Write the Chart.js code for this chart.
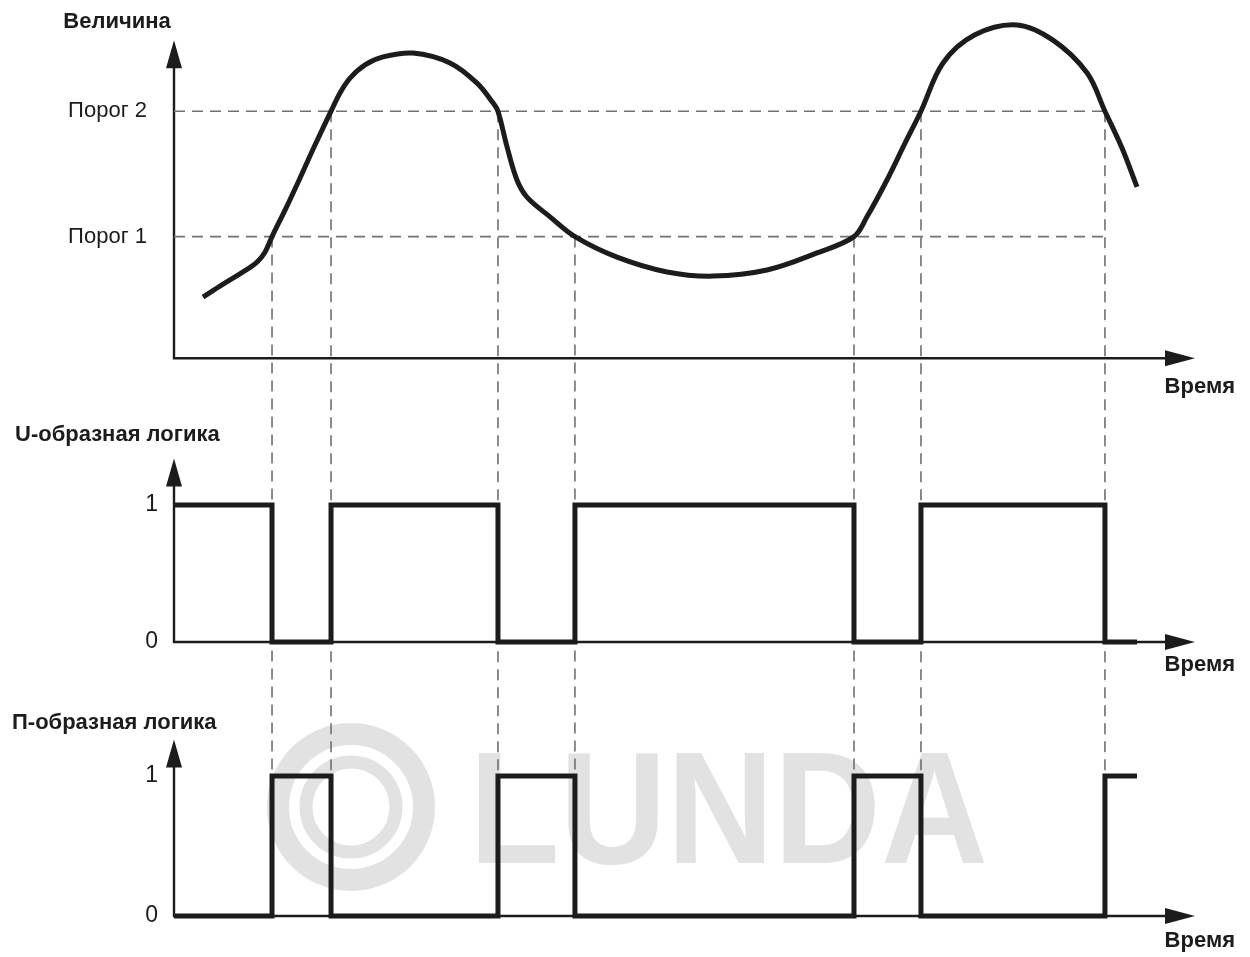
<!DOCTYPE html>
<html>
<head>
<meta charset="utf-8">
<script src="https://cdn.jsdelivr.net/npm/chart.js@4.4.1/dist/chart.umd.min.js"></script>
<style>
  html, body { margin: 0; padding: 0; background: #fff; }
</style>
</head>
<body>
<canvas id="myChart" width="1250" height="957"></canvas>
<script>
  const curveTime  = [2.84, 4.70, 6.76, 8.13, 8.91, 9.60, 10.97, 12.34, 13.81, 15.38, 16.26, 17.24, 18.71, 20.47, 23.41,
                      27.03, 29.68, 31.24, 31.73, 32.62, 33.59, 34.57, 36.83, 39.27, 43.39, 48.29, 52.79, 58.08, 62.98,
                      66.60, 67.87, 69.83, 71.60, 73.16, 75.32, 78.45, 82.57, 86.09, 89.42, 91.18, 92.85, 94.32]
  const curveValue = [16.1, 19.3, 22.7, 25.3, 27.9, 32.0, 39.5, 47.4, 56.1, 65.0, 69.8, 73.7, 77.2, 79.3, 80.3,
                      77.7, 72.4, 67.2, 65.0, 55.6, 46.9, 42.4, 37.2, 32.0, 26.6, 22.7, 21.6, 23.2, 27.7,
                      32.0, 37.2, 46.9, 56.6, 65.0, 77.7, 85.1, 87.7, 83.7, 75.1, 65.0, 55.3, 45.1]

  const thresholdValues = [32, 65]
  const thresholdLabels = ['Порог 1', 'Порог 2']
  const thresholdEnd = 91.18

  // switching moments and the two logic outputs
  const switchTimes = [0, 9.60, 15.38, 31.73, 39.27, 66.60, 73.16, 91.18, 94.32]
  const uLogic      = [1, 0, 1, 0, 1, 0, 1, 0, 0]
  const pLogic      = [0, 1, 0, 1, 0, 1, 0, 1, 1]
  const crossLevel  = [32, 65, 65, 32, 32, 65, 65]   // threshold hit at each switch

  const logicTicks  = [0, 1]
  const logicLabels = ['0', '1']

  const FONT = "'Liberation Sans', Arial, sans-serif"
  const INK = '#1c1c1c'

  const panels = [
    {id: 'yv', tip: 83.7, title: 'Величина', titleX: 117, titleAlign: 'center', titleDy: -18, timeDy: 29},
    {id: 'yu', tip: 1.34, title: 'U-образная логика', titleX: 15, titleAlign: 'left', titleDy: -23, timeDy: 23},
    {id: 'yp', tip: 1.26, title: 'П-образная логика', titleX: 12, titleAlign: 'left', titleDy: -17, timeDy: 25},
  ]

  function to_points(xs, ys) {
    return xs.map((x, i) => ({x: x, y: ys[i]}))
  }

  function arrow(ctx, x, y, dir) {
    ctx.beginPath()
    if (dir == 'up') {
      ctx.moveTo(x, y); ctx.lineTo(x - 8, y + 28); ctx.lineTo(x + 8, y + 28)
    } else {
      ctx.moveTo(x, y); ctx.lineTo(x - 30, y - 8); ctx.lineTo(x - 30, y + 8)
    }
    ctx.closePath()
    ctx.fill()
  }

  function fix_width(s) {
    s.width = 174
    s.paddingTop = 0
    s.paddingBottom = 0
  }

  const sketch = {
    id: 'sketch',
    beforeDraw(chart) {
      // faint watermark
      const ctx = chart.ctx
      ctx.save()
      ctx.strokeStyle = '#e2e2e2'
      ctx.lineWidth = 22
      ctx.beginPath(); ctx.arc(351, 807, 73, 0, Math.PI * 2); ctx.stroke()
      ctx.lineWidth = 13
      ctx.beginPath(); ctx.arc(351, 807, 45, 0, Math.PI * 2); ctx.stroke()
      ctx.fillStyle = '#e2e2e2'
      ctx.font = "bold 160px 'Liberation Sans', Arial, sans-serif"
      ctx.textBaseline = 'alphabetic'
      ctx.textAlign = 'left'
      const w = ctx.measureText('LUNDA').width
      ctx.translate(469, 863)
      ctx.scale(519 / w, 1)
      ctx.fillText('LUNDA', 0, 0)
      ctx.restore()
    },
    beforeDatasetsDraw(chart) {
      const {ctx, scales} = chart
      const x = scales.x
      const x0 = x.getPixelForValue(0)
      const xEnd = x.getPixelForValue(x.max)
      ctx.save()

      // guides from threshold crossings down to the last panel
      ctx.strokeStyle = '#707070'
      ctx.lineWidth = 1.6
      ctx.setLineDash([11, 7])
      switchTimes.slice(1, -1).forEach((t, i) => {
        const px = x.getPixelForValue(t)
        ctx.beginPath()
        ctx.moveTo(px, scales.yv.getPixelForValue(crossLevel[i]))
        ctx.lineTo(px, scales.yp.getPixelForValue(1))
        ctx.stroke()
      })
      ctx.setLineDash([])

      // axes with arrows
      ctx.strokeStyle = INK
      ctx.fillStyle = INK
      ctx.lineWidth = 2.4
      panels.forEach(p => {
        const s = scales[p.id]
        const y0 = s.getPixelForValue(0)
        const yTip = s.getPixelForValue(p.tip)
        ctx.beginPath()
        ctx.moveTo(x0, yTip + 20); ctx.lineTo(x0, y0); ctx.lineTo(xEnd - 22, y0)
        ctx.stroke()
        arrow(ctx, x0, yTip, 'up')
        arrow(ctx, xEnd, y0, 'right')
      })
      ctx.restore()
    },
    afterDraw(chart) {
      const {ctx, scales} = chart
      const xEnd = scales.x.getPixelForValue(scales.x.max)
      ctx.save()
      ctx.fillStyle = INK
      ctx.textBaseline = 'middle'
      ctx.font = 'bold 22px ' + FONT
      panels.forEach(p => {
        const s = scales[p.id]
        ctx.textAlign = p.titleAlign
        ctx.fillText(p.title, p.titleX, s.getPixelForValue(p.tip) + p.titleDy)
        ctx.textAlign = 'right'
        ctx.fillText('Время', xEnd + 40, s.getPixelForValue(0) + p.timeDy)
      })
      ctx.restore()
    }
  }

  function logic_scale(weight, stackWeight, min, max) {
    return {
      type: 'linear', position: 'left', stack: 'panels', stackWeight: stackWeight, weight: weight,
      min: min, max: max,
      grid: {display: false, drawTicks: false},
      border: {display: false},
      afterBuildTicks: s => { s.ticks = logicTicks.map(v => ({value: v})) },
      afterFit: fix_width,
      ticks: {
        callback: (v, i) => logicLabels[i],
        padding: 16,
        color: INK,
        font: {family: FONT, size: 23}
      }
    }
  }

  const step_style = {
    borderColor: INK,
    borderWidth: 5,
    pointRadius: 0,
    stepped: 'before',
    borderJoinStyle: 'miter',
    borderCapStyle: 'butt',
    fill: false,
    clip: false,
    order: 0,
  }

  const config = {
    type: 'line',
    data: {
      datasets: [
        {
          label: 'Величина',
          data: to_points(curveTime, curveValue),
          xAxisID: 'x', yAxisID: 'yv',
          borderColor: INK, borderWidth: 5,
          pointRadius: 0,
          tension: 0.35,
          fill: false, clip: false, order: 0,
        },
        ...thresholdValues.map((v, i) => ({
          label: thresholdLabels[i],
          data: [{x: 0, y: v}, {x: thresholdEnd, y: v}],
          xAxisID: 'x', yAxisID: 'yv',
          borderColor: '#707070', borderWidth: 1.6, borderDash: [11, 7],
          pointRadius: 0, fill: false, order: 2,
        })),
        Object.assign({label: 'U-образная логика', data: to_points(switchTimes, uLogic), xAxisID: 'x', yAxisID: 'yu'}, step_style),
        Object.assign({label: 'П-образная логика', data: to_points(switchTimes, pLogic), xAxisID: 'x', yAxisID: 'yp'}, step_style),
      ]
    },
    options: {
      responsive: false,
      animation: false,
      devicePixelRatio: 1,
      layout: {padding: {left: 0, right: 55, top: 20, bottom: 17}},
      plugins: {
        legend: {display: false},
        tooltip: {enabled: false},
      },
      scales: {
        x: {type: 'linear', min: 0, max: 100, display: false},
        yv: {
          type: 'linear', position: 'left', stack: 'panels', stackWeight: 380, weight: 3,
          min: -11, max: 89,
          grid: {display: false, drawTicks: false},
          border: {display: false},
          afterBuildTicks: s => { s.ticks = thresholdValues.map(v => ({value: v})) },
          afterFit: fix_width,
          ticks: {
            callback: (v, i) => thresholdLabels[i],
            padding: 27,
            color: INK,
            font: {family: FONT, size: 22}
          }
        },
        yu: logic_scale(2, 280, -0.2774, 1.7664),
        yp: logic_scale(1, 260, -0.1714, 1.6857),
      }
    },
    plugins: [sketch]
  }

  const myChart = new Chart(document.getElementById('myChart'), config)
</script>
</body>
</html>
